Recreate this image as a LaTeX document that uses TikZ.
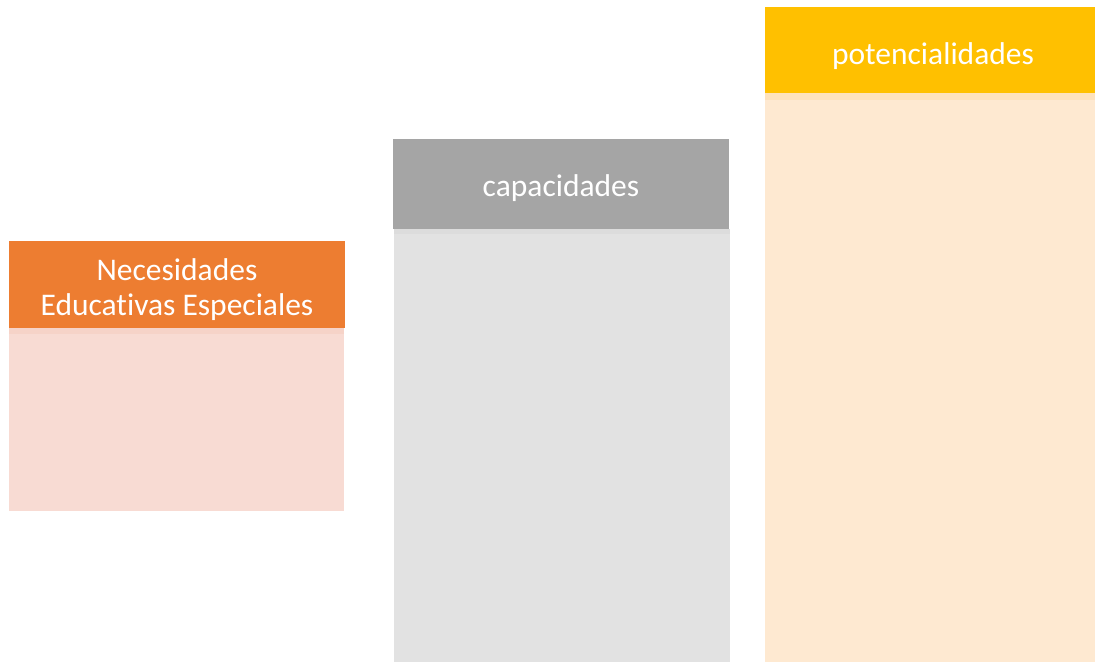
\documentclass[tikz,border=0pt]{standalone}
\usepackage{fontspec}
\setmainfont{Carlito}[Ligatures=NoCommon]
\definecolor{orhead}{HTML}{ED7D31}
\definecolor{orbody}{HTML}{F8DBD3}
\definecolor{orband}{HTML}{F6D3C8}
\definecolor{grhead}{HTML}{A5A5A5}
\definecolor{grbody}{HTML}{E2E2E2}
\definecolor{grband}{HTML}{DCDCDC}
\definecolor{yehead}{HTML}{FFC000}
\definecolor{yebody}{HTML}{FEE9D1}
\definecolor{yeband}{HTML}{FEE2BC}
\tikzset{
  headbox/.style={inner sep=0pt, text=white, font=\fontsize{31.5}{35}\selectfont, align=center},
}
\begin{document}
\begin{tikzpicture}[x=1pt,y=-1pt]
\useasboundingbox[fill=white] (0,0) rectangle (1095,662);
% column 1
\fill[orbody] (9,328) rectangle (344,511);
\fill[orband] (9,328) rectangle (344,334);
\fill[orhead] (9,241) rectangle (345,328);
\node[headbox] (h1) at (177,290) {Necesidades\\Educativas Especiales};
% column 2
\fill[grbody] (394,229) rectangle (730,662);
\fill[grband] (394,229) rectangle (730,234);
\fill[grhead] (393,139) rectangle (729,229);
\node[headbox] (h2) at (561,188) {capacidades};
% column 3
\fill[yebody] (765,93) rectangle (1095,662);
\fill[yeband] (765,93) rectangle (1095,100);
\fill[yehead] (765,7) rectangle (1095,93);
\node[headbox] (h3) at (933,56) {potencialidades};
\end{tikzpicture}
\end{document}
